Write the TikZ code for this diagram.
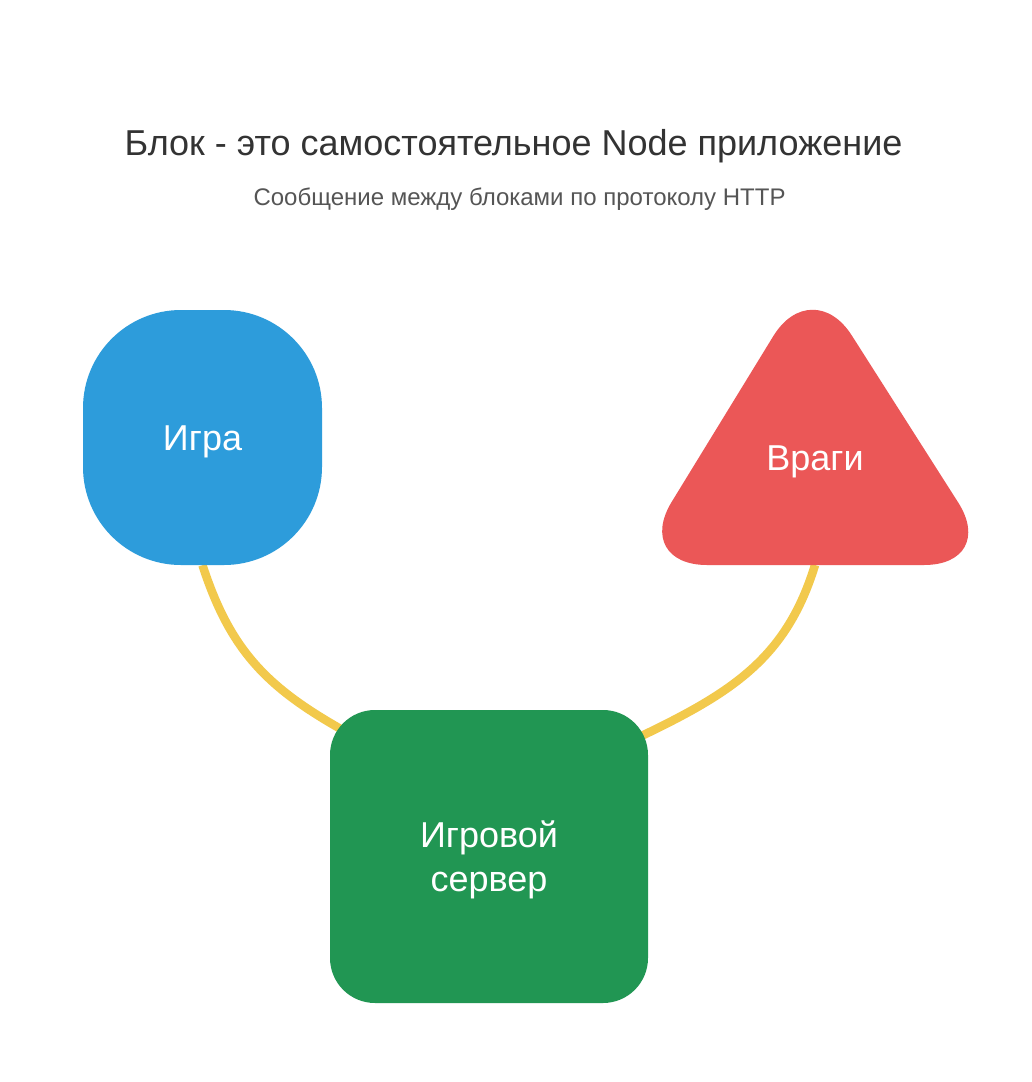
\documentclass[tikz,border=0pt]{standalone}
\usepackage{fontspec}
\setmainfont{Liberation Sans}
\usetikzlibrary{calc}
\definecolor{titlegray}{HTML}{333333}
\definecolor{subgray}{HTML}{555555}
\definecolor{igrablue}{HTML}{2D9CDB}
\definecolor{vragired}{HTML}{EB5757}
\definecolor{servergreen}{HTML}{219653}
\definecolor{linkyellow}{HTML}{F2C94C}
\pgfdeclarelayer{paper}
\pgfdeclarelayer{links}
\pgfsetlayers{paper,links,main}
\tikzset{
  blob/.style={text=white, align=center, inner sep=0pt, text height=26pt, text depth=0pt,
    font=\fontsize{36}{43.4}\selectfont},
  link/.style={draw=linkyellow, line width=8.5pt}
}

\begin{document}
\begin{tikzpicture}[x=1pt, y=1pt]
\begin{pgfonlayer}{paper}
\fill[white] (0,0) rectangle (1032,-1082);
\end{pgfonlayer}
\useasboundingbox (0,0) rectangle (1032,-1082);

% headings
\node[font=\fontsize{36}{42}\selectfont, text=titlegray, anchor=base] (title) at (513.5,-155) {Блок - это самостоятельное Node приложение};
\node[font=\fontsize{24}{28}\selectfont, text=subgray, anchor=base] (subtitle) at (519.5,-205) {Сообщение между блоками по протоколу HTTP};

% blocks
\node[blob, fill=igrablue, rounded corners=98pt, minimum width=239pt, minimum height=255pt] (igra) at (202.5,-437.5) {Игра};

\fill[vragired, rounded corners=74pt] (815,-565) -- (998,-565) -- (812,-273) -- (633,-565) -- cycle;
\node[blob] (vragi) at (815,-457) {Враги};
\coordinate (vragi-base) at (815,-565);

\node[blob, text height=69.3pt, fill=servergreen, rounded corners=45pt, minimum width=318pt, minimum height=293pt] (server) at (489,-856.5) {Игровой\\сервер};

% links, behind the blocks
\coordinate (server-l) at ($(server.center)+(-89,96)$);
\coordinate (server-r) at ($(server.center)+(111,101)$);
\begin{pgfonlayer}{links}
\draw[link] (igra.south) .. controls +(-72:110) and +(153:130) .. (server-l);
\draw[link] (vragi-base) .. controls +(-107:110) and +(25:130) .. (server-r);
\end{pgfonlayer}
\end{tikzpicture}
\end{document}
